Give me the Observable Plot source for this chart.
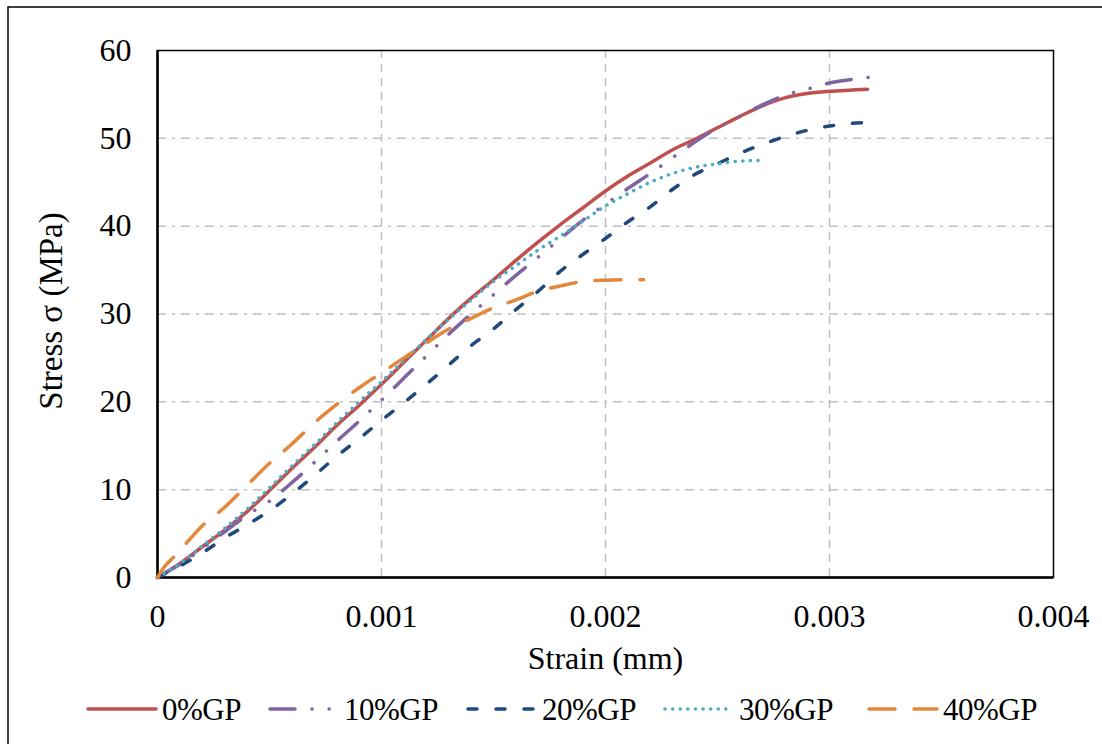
<!DOCTYPE html>
<html>
<head>
<meta charset="utf-8">
<script src="https://cdn.jsdelivr.net/npm/d3@7"></script>
<script src="https://cdn.jsdelivr.net/npm/@observablehq/plot@0.6"></script>
<style>
  html, body { margin: 0; padding: 0; background: #fff; }
  #chart { position: relative; width: 1102px; height: 744px; overflow: hidden; }
  #chart svg, #chart svg text { font-family: "Liberation Serif", "Times New Roman", Times, "DejaVu Serif", serif !important; }
</style>
</head>
<body>
<div id="chart"></div>
<script>
// ---- Data ----
const seriesNames = ["0%GP", "10%GP", "20%GP", "30%GP", "40%GP"];

const strain0 = [0, 0.0001, 0.0002, 0.0003, 0.0004, 0.0005, 0.0006, 0.0007, 0.0008, 0.0009, 0.001, 0.0011, 0.0012, 0.0013, 0.0014, 0.0015, 0.0016, 0.0017, 0.0018, 0.0019, 0.002, 0.0021, 0.0022, 0.0023, 0.0024, 0.0025, 0.0026, 0.0027, 0.0028, 0.0029, 0.003, 0.0031, 0.00317];
const stress0 = [0, 1.6, 3.5, 5.4, 7.5, 9.9, 12.4, 14.8, 17.3, 19.6, 22.0, 24.5, 27.0, 29.5, 31.8, 33.9, 36.1, 38.2, 40.2, 42.1, 44.0, 45.7, 47.2, 48.7, 49.9, 51.2, 52.5, 53.7, 54.6, 55.1, 55.35, 55.5, 55.6];

const strain10 = [0, 0.0001, 0.0002, 0.0003, 0.0004, 0.0005, 0.0006, 0.0007, 0.0008, 0.0009, 0.001, 0.0011, 0.0012, 0.0013, 0.0014, 0.0015, 0.0016, 0.0017, 0.0018, 0.0019, 0.002, 0.0021, 0.0022, 0.0023, 0.0024, 0.0025, 0.0026, 0.0027, 0.0028, 0.0029, 0.003, 0.0031, 0.0032];
const stress10 = [0, 1.5, 3.3, 5.2, 7.1, 8.7, 10.8, 13.1, 15.5, 17.8, 20.2, 22.7, 25.2, 27.7, 30.0, 32.2, 34.4, 36.5, 38.6, 40.7, 42.5, 44.3, 46.0, 47.8, 49.6, 51.2, 52.5, 53.8, 54.9, 55.6, 56.3, 56.7, 57.0];

const strain20 = [0, 0.0001, 0.0002, 0.0003, 0.0004, 0.0005, 0.0006, 0.0007, 0.0008, 0.0009, 0.001, 0.0011, 0.0012, 0.0013, 0.0014, 0.0015, 0.0016, 0.0017, 0.0018, 0.0019, 0.002, 0.0021, 0.0022, 0.0023, 0.0024, 0.0025, 0.0026, 0.0027, 0.0028, 0.0029, 0.003, 0.0031, 0.00317];
const stress20 = [0, 1.3, 2.8, 4.5, 6.0, 7.6, 9.5, 11.6, 13.8, 15.8, 17.9, 19.9, 22.0, 24.2, 26.4, 28.3, 30.5, 32.6, 34.9, 36.8, 38.6, 40.5, 42.2, 44.2, 45.9, 47.1, 48.3, 49.3, 50.2, 50.9, 51.4, 51.7, 51.8];

const strain30 = [0, 0.0001, 0.0002, 0.0003, 0.0004, 0.0005, 0.0006, 0.0007, 0.0008, 0.0009, 0.001, 0.0011, 0.0012, 0.0013, 0.0014, 0.0015, 0.0016, 0.0017, 0.0018, 0.0019, 0.002, 0.0021, 0.0022, 0.0023, 0.0024, 0.0025, 0.0026, 0.0027];
const stress30 = [0, 1.6, 3.6, 5.6, 7.8, 10.2, 12.7, 15.1, 17.6, 20.0, 22.3, 24.7, 27.1, 29.4, 31.6, 33.7, 35.5, 37.3, 38.9, 40.6, 42.3, 43.7, 45.0, 46.0, 46.7, 47.1, 47.4, 47.5];

const strain40 = [0, 0.00003, 0.00008, 0.0002, 0.0003, 0.0004, 0.0005, 0.0006, 0.0007, 0.0008, 0.0009, 0.001, 0.0011, 0.0012, 0.0013, 0.0014, 0.0015, 0.0016, 0.0017, 0.0018, 0.0019, 0.002, 0.0021, 0.00217];
const stress40 = [0, 1.2, 2.5, 5.9, 8.0, 10.5, 13.0, 15.2, 17.6, 19.7, 21.6, 23.3, 25.0, 26.7, 28.3, 29.5, 30.7, 31.6, 32.6, 33.2, 33.7, 33.85, 33.9, 33.9];

const xTicks = [0, 0.001, 0.002, 0.003, 0.004];
const yTicks = [0, 10, 20, 30, 40, 50, 60];
const xLabel = "Strain (mm)";
const yLabel = "Stress σ (MPa)";

// ---- Styles ----
const colors = ["#C0504D", "#8064A2", "#1F497D", "#4BACC6", "#E3873C"];
const dashes = [null, "25,17,0.1,17,0.1,17", "9,19", "0.1,7.5", "26,19"];
const FONT = "Liberation Serif";

const strains = [strain0, strain10, strain20, strain30, strain40];
const stresses = [stress0, stress10, stress20, stress30, stress40];
const tables = strains.map((s, i) => s.map((x, j) => ({strain: x, stress: stresses[i][j], series: seriesNames[i]})));

const lineMarks = tables.map((t, i) => Plot.line(t, {
  x: "strain", y: "stress", stroke: colors[i], strokeWidth: 3.5,
  strokeDasharray: dashes[i], strokeLinecap: "round", strokeLinejoin: "round",
  curve: "monotone-x"
}));

const plot = Plot.plot({
  width: 1102,
  height: 744,
  marginLeft: 157,
  marginRight: 49,
  marginTop: 50,
  marginBottom: 167,
  style: {fontFamily: FONT, background: "#fff", color: "#000"},
  x: {domain: [0, 0.004], label: null},
  y: {domain: [0, 60], label: null},
  marks: [
    Plot.gridY(yTicks.slice(1, -1), {stroke: "#BFBFBF", strokeOpacity: 1, strokeWidth: 1.5, strokeDasharray: "9,6,3,6"}),
    Plot.gridX(xTicks.slice(1, -1), {stroke: "#BFBFBF", strokeOpacity: 1, strokeWidth: 1.5, strokeDasharray: "8,6"}),
    Plot.axisY(yTicks, {tickSize: 0, tickPadding: 26, fontSize: 32, fontFamily: FONT, fill: "#000"}),
    Plot.axisX(xTicks, {tickSize: 0, tickPadding: 27, fontSize: 32, fontFamily: FONT, fill: "#000",
      tickFormat: d => d === 0 ? "0" : d.toFixed(3)}),
    Plot.frame({stroke: "#000", strokeWidth: 1.5}),
    Plot.ruleX([0], {stroke: "#000", strokeWidth: 2.5}),
    Plot.ruleY([0], {stroke: "#000", strokeWidth: 2.5}),
    ...lineMarks,
    Plot.text([yLabel], {frameAnchor: "left", textAnchor: "middle", dx: -106, dy: -3, rotate: -90, text: d => d, fontSize: 33, fontFamily: FONT, fill: "#000"}),
    Plot.text([xLabel], {frameAnchor: "bottom", textAnchor: "middle", dy: 91, text: d => d, fontSize: 32, fontFamily: FONT, fill: "#000"})
  ]
});

document.getElementById("chart").appendChild(plot);

// ---- Legend and outer border ----
const svg = d3.select(plot);
svg.append("path").attr("d", "M8,744V7H1102").attr("fill", "none").attr("stroke", "#000").attr("stroke-width", 1.5);

const legendX = [87, 269, 467, 664, 868];
const legendY = 709;
const lg = svg.append("g").attr("text-anchor", "start");
seriesNames.forEach((name, i) => {
  const x0 = legendX[i];
  lg.append("line")
    .attr("x1", x0 + 1).attr("x2", x0 + 69).attr("y1", legendY).attr("y2", legendY)
    .attr("stroke", colors[i]).attr("stroke-width", 3.5)
    .attr("stroke-linecap", "round")
    .attr("stroke-dasharray", dashes[i] || null);
  lg.append("text")
    .attr("x", x0 + 75).attr("y", legendY).attr("dy", "0.35em")
    .attr("text-anchor", "start")
    .attr("font-family", FONT).attr("font-size", 31).attr("fill", "#000")
    .attr("letter-spacing", "-0.5")
    .text(name);
});
</script>
</body>
</html>
